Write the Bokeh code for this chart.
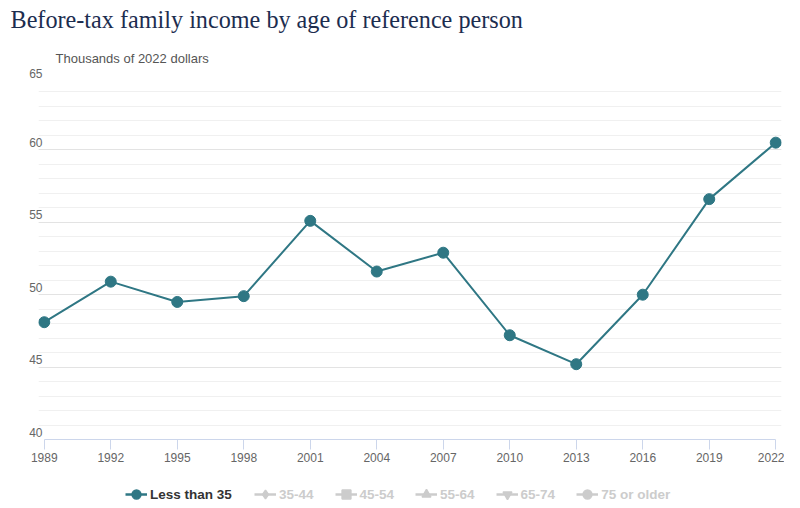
import numpy as np
from bokeh.plotting import figure
from bokeh.models import (ColumnDataSource, Range1d, FixedTicker, SingleIntervalTicker,
                          Label, Legend, LegendItem, CustomJSTickFormatter)
from bokeh.layouts import column
from bokeh.embed import file_html
from bokeh.resources import INLINE

# ---- data ----
years = [1989, 1992, 1995, 1998, 2001, 2004, 2007, 2010, 2013, 2016, 2019, 2022]
income_lt35 = [48.1, 50.9, 49.5, 49.9, 55.1, 51.6, 52.9, 47.2, 45.2, 50.0, 56.6, 60.5]
series_names = ["Less than 35", "35-44", "45-54", "55-64", "65-74", "75 or older"]
series_markers = ["circle", "diamond", "square", "triangle", "inverted_triangle", "circle"]
title_text = "Before-tax family income by age of reference person"
subtitle_text = "Thousands of 2022 dollars"
y_min, y_max = 40, 65

MAIN = "#2f7784"
GREY = "#cccccc"
SANS = "Liberation Sans"
W = 784


def blank(height):
    f = figure(width=W, height=height, x_range=Range1d(0, 1), y_range=Range1d(0, 1),
               x_axis_location=None, y_axis_location=None,
               min_border=0, outline_line_color=None, toolbar_location=None,
               output_backend="svg", frame_align=False)
    f.title = None
    f.xgrid.visible = False
    f.ygrid.visible = False
    return f


# ---- header ----
head = blank(66)
head.add_layout(Label(x=10, y=47, x_units="screen", y_units="screen", text=title_text,
                      text_font="Liberation Serif", text_font_size="24.2px",
                      text_color="#1c2d4f", text_baseline="alphabetic"))
head.add_layout(Label(x=55, y=8, x_units="screen", y_units="screen", text=subtitle_text,
                      text_font=SANS, text_font_size="13px",
                      text_color="#555555", text_baseline="alphabetic"))

# ---- main chart ----
pad = 0.26
p = figure(width=W, height=409,
           x_range=Range1d(years[0] - pad, years[-1] + pad),
           y_range=Range1d(y_min, y_max),
           min_border_left=38, min_border_right=3,
           min_border_top=11, min_border_bottom=36,
           outline_line_color=None, toolbar_location=None,
           output_backend="svg", frame_align=False)
p.title = None

p.xgrid.visible = False
p.yaxis.ticker = SingleIntervalTicker(interval=5, num_minor_ticks=5)
p.ygrid.grid_line_color = "#e3e3e3"
p.ygrid.minor_grid_line_color = "#f0f0f0"

p.yaxis.axis_line_color = None
p.yaxis.major_tick_line_color = None
p.yaxis.minor_tick_line_color = None
p.yaxis.major_tick_out = 0
p.yaxis.minor_tick_out = 0
p.yaxis.major_label_text_color = "#666666"
p.yaxis.major_label_text_font = SANS
p.yaxis.major_label_text_font_size = "12px"
p.yaxis.major_label_text_line_height = 1.0
p.yaxis.major_label_standoff = -4
p.yaxis.formatter = CustomJSTickFormatter(code="return tick.toFixed(0) + '\\n ';")

p.xaxis.ticker = FixedTicker(ticks=years)
p.xaxis.bounds = (years[0], years[-1])
p.xaxis.axis_line_color = "#ccd6eb"
p.xaxis.major_tick_line_color = "#ccd6eb"
p.xaxis.major_tick_out = 10
p.xaxis.major_tick_in = 0
p.xaxis.minor_tick_line_color = None
p.xaxis.major_label_text_color = "#666666"
p.xaxis.major_label_text_font = SANS
p.xaxis.major_label_text_font_size = "12px"
p.xaxis.major_label_standoff = 3

src = ColumnDataSource(dict(year=years, value=income_lt35))
p.line("year", "value", source=src, line_color=MAIN, line_width=2)
p.scatter("year", "value", source=src, marker=series_markers[0], size=11,
          fill_color=MAIN, line_color=MAIN)

# ---- legend strip (legend-only renderers hold no visible data) ----
foot = blank(33)
items = []
for i, (name, mk) in enumerate(zip(series_names, series_markers)):
    col = MAIN if i == 0 else GREY
    empty = ColumnDataSource(dict(x=np.array([np.nan]), y=np.array([np.nan])))
    lr = foot.line("x", "y", source=empty, line_color=col, line_width=2.5)
    sr = foot.scatter("x", "y", source=empty, marker=mk, size=10,
                      fill_color=col, line_color=col, line_width=1.5)
    items.append(LegendItem(label=name, renderers=[lr, sr]))

common = dict(orientation="horizontal", glyph_width=22, glyph_height=22,
              label_standoff=3, padding=0, margin=0, border_line_color=None,
              background_fill_alpha=0, label_text_font=SANS,
              label_text_font_size="13.5px", label_text_font_style="bold",
              label_height=20)
leg1 = Legend(items=items[:1], location=(125, 3), label_text_color="#333333", **common)
leg2 = Legend(items=items[1:], location=(254, 3), spacing=21,
              label_text_color=GREY, **common)
foot.add_layout(leg1)
foot.add_layout(leg2)

layout = column(head, p, foot, spacing=0)
open("out.html", "w").write(file_html(layout, INLINE))
